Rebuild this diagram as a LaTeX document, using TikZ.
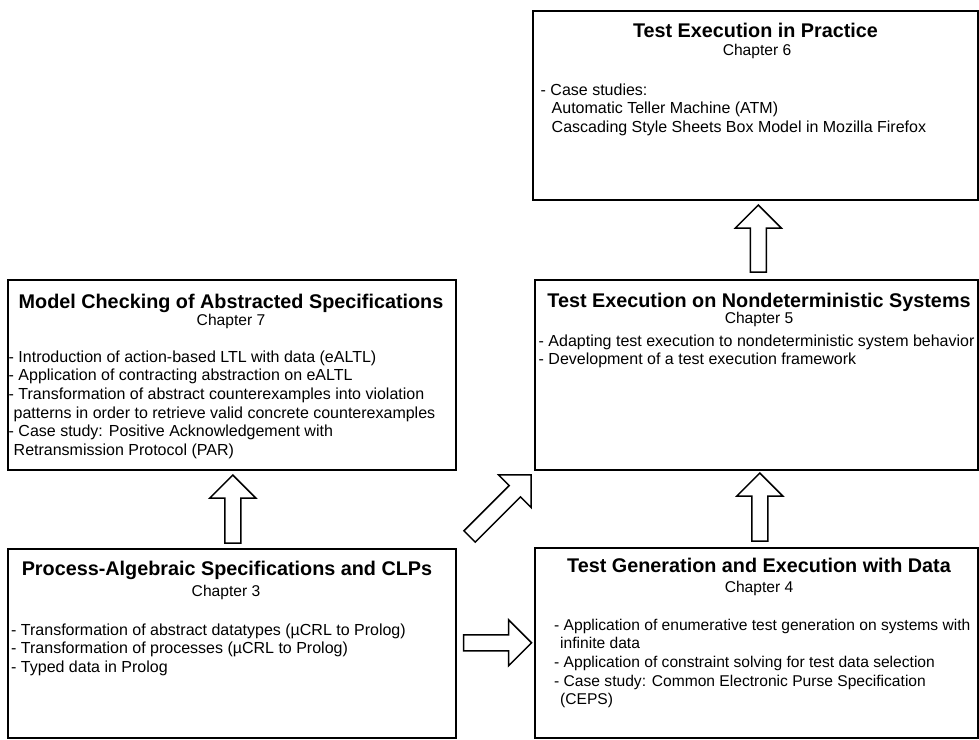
\documentclass[tikz,border=0pt]{standalone}
\usepackage{fontspec}
\setmainfont{Liberation Sans}
\usetikzlibrary{calc}
\tikzset{
  box/.style={draw, line width=1.6pt, inner sep=0pt, anchor=north west},
  titletext/.style={font=\fontsize{19.8}{22}\selectfont\bfseries, inner sep=0pt, anchor=base},
  chaptext/.style={font=\fontsize{15.6}{18}\selectfont, inner sep=0pt, anchor=base},
  bodytext/.style={font=\fontsize{16}{18.6}\selectfont, inner sep=0pt, anchor=north west, align=left},
  bodysmall/.style={bodytext, font=\fontsize{15.6}{18.6}\selectfont},
  arrowline/.style={draw, line width=1.5pt, fill=white, line join=miter},
  pics/blockarrow/.style={code={
    \draw[arrowline] (0,8) -- ({#1-23},8) -- ({#1-23},23) -- (#1,0)
      -- ({#1-23},-23) -- ({#1-23},-8) -- (0,-8) -- cycle;
  }}
}
\newcommand\firstline{\rule{0pt}{12pt}}
\begin{document}
\begin{tikzpicture}[x=1pt,y=-1pt]
\useasboundingbox (0,0) rectangle (979,739);

% chapter boxes
\node[box, minimum width=445pt, minimum height=189pt] (ch6) at (532,10) {};
\node[box, minimum width=448pt, minimum height=190pt] (ch7) at (7,279) {};
\node[box, minimum width=443pt, minimum height=190pt] (ch5) at (534,279) {};
\node[box, minimum width=448pt, minimum height=189pt] (ch3) at (7,548) {};
\node[box, minimum width=443pt, minimum height=190pt] (ch4) at (534,547) {};

% chapter 6
\node[titletext] (t6) at (755.5,37) {Test Execution in Practice};
\node[chaptext] (c6) at (757,55.5) {Chapter 6};
\node[bodytext] (b6) at (540.5,83) {\firstline- Case studies:\\
  \hspace*{11pt}Automatic Teller Machine (ATM)\\
  \hspace*{11pt}Cascading Style Sheets Box Model in Mozilla Firefox};

% chapter 7
\node[titletext] (t7) at (231,308) {Model Checking of Abstracted Specifications};
\node[chaptext] (c7) at (231,325.5) {Chapter 7};
\node[bodytext] (b7) at (8.5,350) {\firstline- Introduction of action-based LTL with data (eALTL)\\
  - Application of contracting abstraction on eALTL\\
  - Transformation of abstract counterexamples into violation\\
  \hspace*{5pt}patterns in order to retrieve valid concrete counterexamples\\
  - Case study: Positive Acknowledgement with\\
  \hspace*{5pt}Retransmission Protocol (PAR)};

% chapter 5
\node[titletext] (t5) at (759,307) {Test Execution on Nondeterministic Systems};
\node[chaptext] (c5) at (759,323.5) {Chapter 5};
\node[bodytext] (b5) at (538.5,334) {\firstline- Adapting test execution to nondeterministic system behavior\\
  - Development of a test execution framework};

% chapter 3
\node[titletext] (t3) at (227,575) {Process-Algebraic Specifications and CLPs};
\node[chaptext] (c3) at (226,596.5) {Chapter 3};
\node[bodytext] (b3) at (11,623) {\firstline- Transformation of abstract datatypes (µCRL to Prolog)\\
  - Transformation of processes (µCRL to Prolog)\\
  - Typed data in Prolog};

% chapter 4
\node[titletext] (t4) at (759,572) {Test Generation and Execution with Data};
\node[chaptext] (c4) at (759,592.5) {Chapter 4};
\node[bodysmall] (b4) at (554,618) {\firstline- Application of enumerative test generation on systems with\\
  \hspace*{6pt}infinite data\\
  - Application of constraint solving for test data selection\\
  - Case study: Common Electronic Purse Specification\\
  \hspace*{6pt}(CEPS)};

% block arrows between the chapters
\pic[rotate=90] at ($(ch3.north)+(1,-5)$) {blockarrow=68};
\pic[rotate=90] at ($(ch4.north)+(3.5,-6)$) {blockarrow=68};
\pic[rotate=90] at ($(ch5.north)+(2,-7)$) {blockarrow=67};
\pic at ($(ch3.east)+(7,-0.5)$) {blockarrow=68};
\pic[rotate=45] at ($(ch3.north east)+(13,-11.5)$) {blockarrow=87};
\end{tikzpicture}
\end{document}
